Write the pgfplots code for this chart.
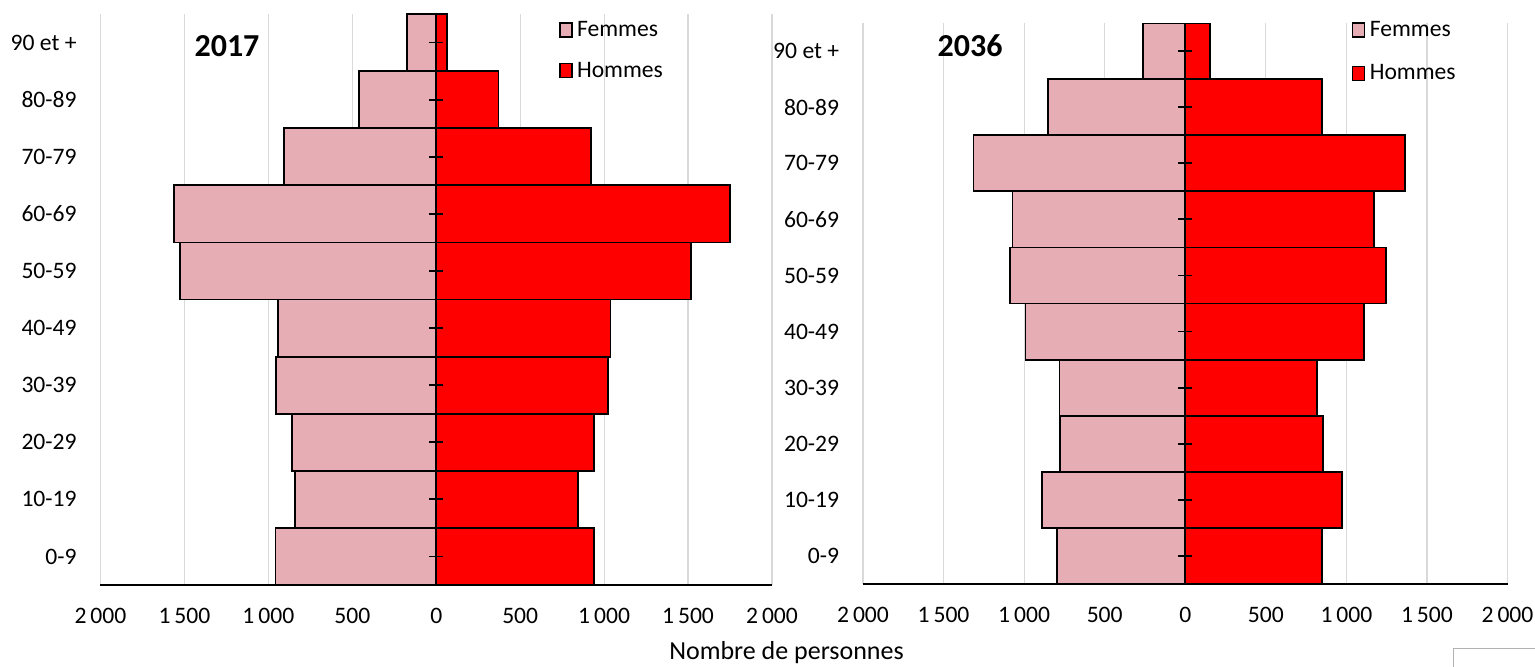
\documentclass[border=0pt]{standalone}
\usepackage{pgfplots}
\usepackage{pgfplotstable}
\pgfplotsset{compat=1.18}
\usepackage{fontspec}
\setmainfont{Carlito}
\definecolor{femmes}{HTML}{E6ADB4}
\definecolor{hommes}{HTML}{FF0000}
\definecolor{gridc}{HTML}{D9D9D9}

% age index, Femmes (negative), Hommes
\pgfplotstableread{
i F H
0 -958 938
1 -840 843
2 -860 941
3 -955 1024
4 -944 1038
5 -1525 1516
6 -1561 1748
7 -908 923
8 -460 371
9 -175 65
}\dataA
\pgfplotstableread{
i F H
0 -795 851
1 -887 974
2 -777 857
3 -780 818
4 -992 1108
5 -1087 1246
6 -1072 1171
7 -1314 1362
8 -854 848
9 -263 152
}\dataB

\pgfplotsset{
  pyr/.style={
    scale only axis,
    xmin=-2000, xmax=2000, ymin=-0.5, ymax=9.5,
    axis x line*=bottom, axis y line*=left,
    x axis line style={black, line width=0.8pt},
    y axis line style={draw=none},
    xtick={-2000,-1500,...,2000},
    xticklabels={2\,000,1\,500,1\,000,500,0,500,1\,000,1\,500,2\,000},
    ytick={0,...,9},
    yticklabels={0-9,10-19,20-29,30-39,40-49,50-59,60-69,70-79,80-89,90 et +},
    xtick style={draw=none}, ytick style={draw=none},
    xmajorgrids, major grid style={gridc, line width=0.6pt},
    tick label style={font=\fontsize{11.8}{14}\selectfont},
    xticklabel style={anchor=base, inner sep=0pt, yshift=-19pt},
    yticklabel style={anchor=east, inner sep=0pt, xshift=-11.75pt},
    legend style={anchor=north west, draw=none, fill=none, inner sep=0pt,
      font=\fontsize{11.8}{14}\selectfont, nodes={inner sep=0.5pt}},
    legend cell align=left,
  },
  pbar/.style={xbar, bar width=1, bar shift=0pt, draw=black, line width=0.9pt,
    legend image code/.code={\draw[##1, line width=0.6pt] (0pt,-3.3pt) rectangle (6pt,3.7pt); \path (7.6pt,0pt);}},
  cticks/.style={only marks, mark=-, mark size=3.4pt, mark options={black, line width=0.9pt}, forget plot},
}

\begin{document}
\begin{tikzpicture}
\useasboundingbox (0,0) rectangle (767.5pt,-333pt);
\begin{axis}[pyr, at={(50.25pt,-292.5pt)}, anchor=south west,
  width=335.75pt, height=285.5pt,
  legend style={at={(axis cs:731,9.5)}, yshift=-3pt, row sep=10.2pt}]
\addplot[pbar, fill=femmes] table[x=F, y=i] {\dataA};
\addlegendentry{Femmes}
\addplot[pbar, fill=hommes] table[x=H, y=i] {\dataA};
\addlegendentry{Hommes}
\addplot[cticks] coordinates {(0,0) (0,1) (0,2) (0,3) (0,4) (0,5) (0,6) (0,7) (0,8) (0,9)};
\end{axis}
\begin{axis}[pyr, at={(431.5pt,-292pt)}, anchor=south west,
  width=322.25pt, height=280.5pt,
  legend style={at={(axis cs:1033,9.5)}, yshift=1.5pt, row sep=11.6pt}]
\addplot[pbar, fill=femmes] table[x=F, y=i] {\dataB};
\addlegendentry{Femmes}
\addplot[pbar, fill=hommes] table[x=H, y=i] {\dataB};
\addlegendentry{Hommes}
\addplot[cticks] coordinates {(0,0) (0,1) (0,2) (0,3) (0,4) (0,5) (0,6) (0,7) (0,8) (0,9)};
\end{axis}
\node[anchor=base, font=\bfseries\fontsize{16}{19}\selectfont] at (113.5pt,-28pt) {2017};
\node[anchor=base, font=\bfseries\fontsize{16}{19}\selectfont] at (485pt,-28pt) {2036};
\node[anchor=base, font=\fontsize{13}{15}\selectfont, inner sep=0pt] at (393.25pt,-329.7pt) {Nombre de personnes};
\draw[gray!60, line width=0.5pt] (726.5pt,-334pt) |- (768pt,-324pt);
\end{tikzpicture}
\end{document}
